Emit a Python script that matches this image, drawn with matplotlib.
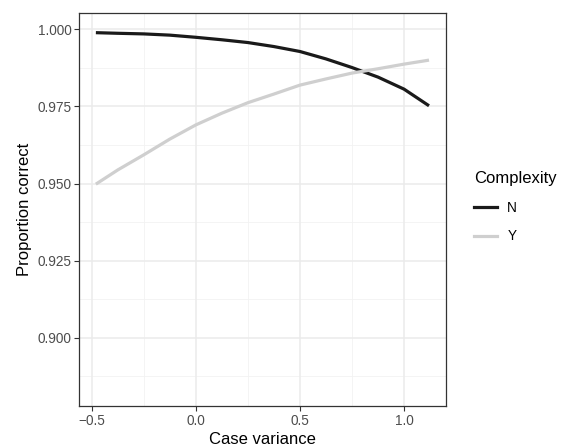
import matplotlib
matplotlib.use("Agg")
import matplotlib.pyplot as plt
from matplotlib.ticker import FixedLocator
from matplotlib.lines import Line2D

plt.rcParams['font.family'] = ['Liberation Sans', 'DejaVu Sans']

case_variance = [-0.48, -0.375, -0.25, -0.125, 0.0, 0.125, 0.25, 0.375, 0.5, 0.625, 0.75, 0.875, 1.0, 1.12]
prop_N = [0.9989, 0.9987, 0.9985, 0.9981, 0.9974, 0.9966, 0.9957, 0.9944, 0.9928, 0.9904, 0.9876, 0.9845, 0.9806, 0.9752]
prop_Y = [0.9498, 0.9544, 0.9593, 0.9644, 0.9690, 0.9728, 0.9762, 0.9790, 0.9819, 0.9839, 0.9858, 0.9872, 0.9887, 0.9900]
x_ticks = [-0.5, 0.0, 0.5, 1.0]
x_tick_labels = ["\u22120.5", "0.0", "0.5", "1.0"]
y_ticks = [0.900, 0.925, 0.950, 0.975, 1.000]
y_tick_labels = ["0.900", "0.925", "0.950", "0.975", "1.000"]
series_names = ["N", "Y"]
series_colors = ["#1a1a1a", "#cfcfcf"]

fig = plt.figure(figsize=(5.62, 4.48), dpi=100)
ax = fig.add_axes([0.1411, 0.0938, 0.6520, 0.8779])

# grid
for xm in [-0.25, 0.25, 0.75]:
    ax.axvline(xm, color="#f2f2f2", lw=0.6, zorder=0)
for ym in [0.8875, 0.9125, 0.9375, 0.9625, 0.9875]:
    ax.axhline(ym, color="#f2f2f2", lw=0.6, zorder=0)
for xm in x_ticks:
    ax.axvline(xm, color="#ebebeb", lw=1.1, zorder=0)
for ym in y_ticks:
    ax.axhline(ym, color="#ebebeb", lw=1.1, zorder=0)

for name, vals, col in zip(series_names, [prop_N, prop_Y], series_colors):
    ax.plot(case_variance, vals, color=col, lw=2.3, solid_capstyle="butt",
            solid_joinstyle="round", zorder=3, label=name)

ax.set_xlim(-0.5596, 1.2003)
ax.set_ylim(0.8779, 1.00538)
ax.xaxis.set_major_locator(FixedLocator(x_ticks))
ax.set_xticklabels(x_tick_labels)
ax.yaxis.set_major_locator(FixedLocator(y_ticks))
ax.set_yticklabels(y_tick_labels)
ax.tick_params(axis="both", which="major", length=3.5, width=0.8, color="#333333",
               labelcolor="#4d4d4d", labelsize=9.8, pad=2)
for s in ax.spines.values():
    s.set_color("#333333")
    s.set_linewidth(0.9)

ax.set_xlabel("Case variance", fontsize=12, color="black", labelpad=3)
ax.set_ylabel("Proportion correct", fontsize=12, color="black", labelpad=4)

# legend
fig.text(474 / 562, 1 - 179 / 448, "Complexity", fontsize=12, ha="left", va="center")
handles = [Line2D([0], [0], color=c, lw=2.3) for c in series_colors]
leg = fig.legend(handles, series_names, loc="upper left",
                 bbox_to_anchor=(474 / 562, 1 - 201 / 448), frameon=False, fontsize=9.8,
                 handlelength=1.7, handletextpad=0.75, labelspacing=1.05,
                 borderpad=0, borderaxespad=0)

fig.savefig("out.png", dpi=100)
